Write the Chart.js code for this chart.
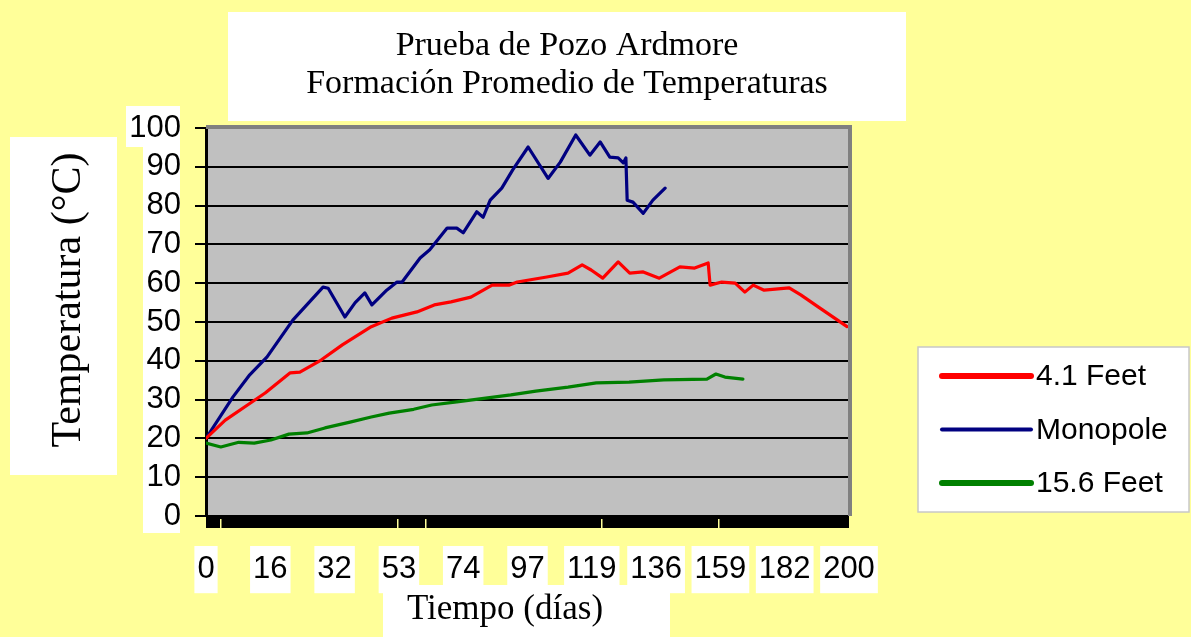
<!DOCTYPE html>
<html lang="es">
<head>
<meta charset="utf-8">
<title>Prueba de Pozo Ardmore</title>
<script src="https://cdn.jsdelivr.net/npm/chart.js@4.4.1/dist/chart.umd.min.js"></script>
<style>
    html, body { margin: 0; padding: 0; background: #ffff99; }
    #wrap { width: 1191px; height: 637px; }
</style>
</head>
<body>
<div id="wrap"><canvas id="chart" width="1191" height="637"></canvas></div>
<script>
// tick labels of the time axis (days), evenly spaced on the original chart
const dayLabels = ['0', '16', '32', '53', '74', '97', '119', '136', '159', '182', '200'];
const seriesNames = ['4.1 Feet', 'Monopole', '15.6 Feet'];
const seriesColors = ['#ff0000', '#000080', '#008000'];

// x = position along the axis (0 = first label "0", 10 = last label "200"), y = °C
const feet41X = [0, 0.30, 0.68, 0.92, 1.31, 1.46, 1.79, 2.12, 2.57, 2.89, 3.28, 3.55, 3.81, 4.12, 4.45, 4.71, 4.84, 5.30, 5.63, 5.85,
    5.99, 6.17, 6.41, 6.59, 6.80, 7.05, 7.37, 7.60, 7.81, 7.84, 8.02, 8.23, 8.38, 8.51, 8.68, 9.07, 9.25, 9.52, 9.97];
const feet41Y = [20, 24.7, 29, 31.7, 36.9, 37.1, 40.2, 44.1, 48.8, 51, 52.6, 54.4, 55.2, 56.4, 59.5, 59.5, 60.3, 61.6, 62.6, 64.7,
    63.4, 61.3, 65.5, 62.6, 62.9, 61.3, 64.2, 63.9, 65.2, 59.5, 60.3, 60, 57.7, 59.5, 58.2, 58.8, 57, 53.9, 48.8];

const monopoleX = [0, 0.42, 0.68, 0.95, 1.35, 1.82, 1.90, 2.16, 2.32, 2.47, 2.58, 2.81, 2.97, 3.05, 3.33, 3.48, 3.75, 3.90, 4.00, 4.21,
    4.31, 4.42, 4.60, 4.77, 5.01, 5.32, 5.51, 5.75, 5.97, 6.13, 6.28, 6.41, 6.49, 6.53, 6.55, 6.64, 6.80, 6.95, 7.14];
const monopoleY = [20, 30.7, 36.4, 41, 50.5, 59, 58.7, 51.3, 55, 57.5, 54.4, 58.2, 60.3, 60.3, 66.5, 68.6, 74.2, 74.2, 73, 78.4,
    77, 81.4, 84.5, 89.2, 95.1, 87, 91.2, 98.2, 93, 96.4, 92.5, 92.3, 91, 92.3, 81.4, 80.9, 78, 81.4, 84.5];

const feet156X = [0, 0.23, 0.51, 0.75, 1.01, 1.29, 1.57, 1.85, 2.24, 2.57, 2.85, 3.23, 3.51, 3.90, 4.35, 4.74, 5.13, 5.63, 6.07, 6.58,
    7.12, 7.79, 7.93, 8.07, 8.35];
const feet156Y = [18.8, 17.8, 19, 18.8, 19.6, 21.1, 21.4, 22.7, 24.2, 25.5, 26.5, 27.5, 28.6, 29.4, 30.4, 31.2, 32.2, 33.2, 34.3, 34.5,
    35.1, 35.3, 36.6, 35.8, 35.3];

const yTicks = [0, 10, 20, 30, 40, 50, 60, 70, 80, 90, 100];

function zip(xs, ys) {
    return xs.map((x, i) => ({ x: x, y: ys[i] }));
}

const sans = 'Liberation Sans, Arial, sans-serif';
const serif = '"Liberation Serif", "Times New Roman", serif';

// boxes, titles, plot frame and legend of the original spreadsheet chart
const decor = {
    id: 'decor',
    beforeDraw(chart) {
        const { ctx, chartArea: a } = chart;
        ctx.save();
        ctx.fillStyle = '#ffff99';
        ctx.fillRect(0, 0, chart.width, chart.height);
        ctx.fillStyle = '#ffffff';
        ctx.fillRect(228, 12, 678, 109);   // title box
        ctx.fillRect(10, 137, 107, 338);   // y title box
        ctx.fillRect(143, 106, 37, 427);   // y tick label column
        ctx.fillRect(126, 106, 54, 41);
        ctx.fillRect(383, 585, 287, 52);   // x title box
        ctx.fillStyle = '#c0c0c0';
        ctx.fillRect(a.left, a.top, a.right - a.left, a.bottom - a.top);
        ctx.restore();
    },
    afterDraw(chart) {
        const { ctx, chartArea: a } = chart;
        ctx.save();

        // shadowed frame top / right
        ctx.strokeStyle = '#808080';
        ctx.lineWidth = 4;
        ctx.beginPath();
        ctx.moveTo(a.left, a.top - 1);
        ctx.lineTo(a.right + 1, a.top - 1);
        ctx.lineTo(a.right + 1, a.bottom);
        ctx.stroke();

        // thick black band under the plot
        ctx.fillStyle = '#000';
        ctx.fillRect(a.left, a.bottom + 1, a.right - a.left, 11);
        ctx.fillStyle = '#ffff99';
        [220, 397, 425, 601, 718].forEach(x => ctx.fillRect(x, a.bottom + 3, 1.5, 9));

        // titles
        ctx.fillStyle = '#000';
        ctx.textAlign = 'center';
        ctx.textBaseline = 'alphabetic';
        ctx.font = '34px ' + serif;
        ctx.fillText('Prueba de Pozo Ardmore', 567, 55);
        ctx.fillText('Formación Promedio de Temperaturas', 567, 93);

        ctx.font = '35px ' + serif;
        ctx.fillText('Tiempo (días)', 505, 619);

        ctx.save();
        ctx.translate(80, 300);
        ctx.rotate(-Math.PI / 2);
        ctx.font = '42px ' + serif;
        ctx.fillText('Temperatura (°C)', 0, 0);
        ctx.restore();

        // legend
        ctx.fillStyle = '#ffffff';
        ctx.fillRect(918, 347, 271, 165);
        ctx.strokeStyle = '#c8c8c8';
        ctx.lineWidth = 1.5;
        ctx.strokeRect(918, 347, 271, 165);
        ctx.font = '30px ' + sans;
        ctx.textAlign = 'left';
        ctx.textBaseline = 'middle';
        chart.data.datasets.forEach((ds, i) => {
            const y = 376 + i * 53.5;
            ctx.strokeStyle = ds.borderColor;
            ctx.lineWidth = i === 1 ? 4 : 6;
            ctx.lineCap = 'round';
            ctx.beginPath();
            ctx.moveTo(942, y);
            ctx.lineTo(1031, y);
            ctx.stroke();
            ctx.fillStyle = '#000';
            ctx.fillText(ds.label, 1036, y + 1);
        });
        ctx.restore();
    }
};

const ctx = document.getElementById('chart').getContext('2d');
const tempChart = new Chart(ctx, {
    type: 'line',
    data: {
        datasets: [
            { label: seriesNames[0], data: zip(feet41X, feet41Y), borderColor: seriesColors[0] },
            { label: seriesNames[1], data: zip(monopoleX, monopoleY), borderColor: seriesColors[1] },
            { label: seriesNames[2], data: zip(feet156X, feet156Y), borderColor: seriesColors[2] }
        ]
    },
    options: {
        responsive: false,
        animation: false,
        devicePixelRatio: 1,
        layout: {
            padding: { left: 0, top: 128, right: 342, bottom: 0 }
        },
        elements: {
            line: { borderWidth: 3.2, tension: 0, borderJoinStyle: 'round', borderCapStyle: 'round' },
            point: { radius: 0 }
        },
        plugins: {
            legend: { display: false },
            title: { display: false },
            tooltip: { enabled: false }
        },
        scales: {
            x: {
                type: 'linear',
                min: 0,
                max: dayLabels.length - 1,
                afterFit: function(scale) { scale.height = 121; },
                afterBuildTicks: function(scale) {
                    scale.ticks = dayLabels.map((d, i) => ({ value: i }));
                },
                grid: { display: false },
                border: { display: false },
                ticks: {
                    autoSkip: false,
                    maxRotation: 0,
                    padding: 27,
                    color: '#000',
                    font: { family: sans, size: 31 },
                    callback: function(value) { return dayLabels[value]; },
                    showLabelBackdrop: true,
                    backdropColor: '#ffffff',
                    backdropPadding: { top: 5, bottom: 5, left: 3, right: 3 }
                }
            },
            y: {
                min: 0,
                max: 100,
                afterFit: function(scale) { scale.width = 206; },
                afterBuildTicks: function(scale) {
                    scale.ticks = yTicks.map(v => ({ value: v }));
                },
                grid: {
                    color: '#000',
                    lineWidth: 2,
                    tickLength: 11,
                    tickColor: '#000'
                },
                border: { display: true, color: '#000', width: 3 },
                ticks: {
                    autoSkip: false,
                    padding: 14,
                    color: '#000',
                    font: { family: sans, size: 31 }
                }
            }
        }
    },
    plugins: [decor]
});
</script>
</body>
</html>
